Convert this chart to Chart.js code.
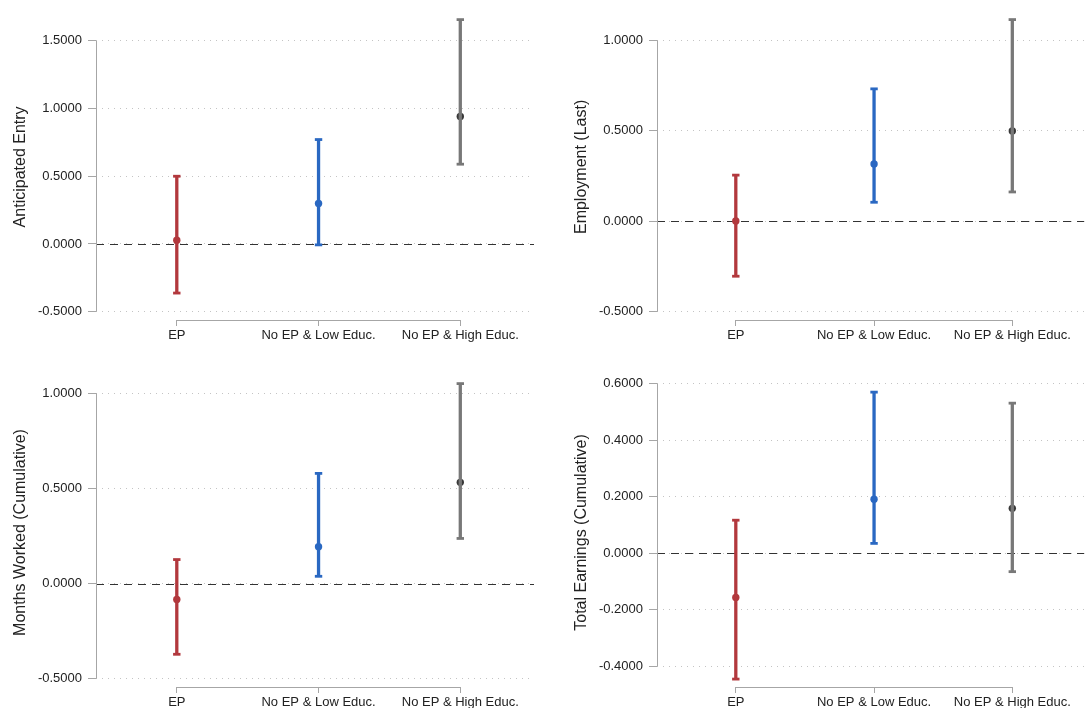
<!DOCTYPE html>
<html>
<head>
<meta charset="utf-8">
<title>Estimated effects by group</title>
<script src="https://cdn.jsdelivr.net/npm/chart.js@4.4.1/dist/chart.umd.min.js"></script>
<style>
  html, body { margin: 0; padding: 0; background: #ffffff; width: 1091px; height: 708px; overflow: hidden; }
  .panel { position: absolute; }
  canvas { display: block; }
</style>
</head>
<body>
<div class="panel" style="left:0px;top:0px;"><canvas id="entry"></canvas></div>
<div class="panel" style="left:545px;top:0px;"><canvas id="employ"></canvas></div>
<div class="panel" style="left:0px;top:354px;"><canvas id="months"></canvas></div>
<div class="panel" style="left:545px;top:354px;"><canvas id="earnings"></canvas></div>
<script>
// Groups on the horizontal axis
const categories = ['EP', 'No EP & Low Educ.', 'No EP & High Educ.'];

// Anticipated entry: point estimates and confidence bounds
const entryEst = [0.027, 0.299, 0.942];
const entryLo  = [-0.363, -0.007, 0.589];
const entryHi  = [0.500, 0.771, 1.657];
const entryTicks = [-0.5, 0.0, 0.5, 1.0, 1.5];

// Employment (last period)
const employEst = [0.001, 0.317, 0.499];
const employLo  = [-0.304, 0.105, 0.162];
const employHi  = [0.255, 0.732, 1.115];
const employTicks = [-0.5, 0.0, 0.5, 1.0];

// Months worked (cumulative)
const monthsEst = [-0.084, 0.193, 0.532];
const monthsLo  = [-0.372, 0.038, 0.237];
const monthsHi  = [0.126, 0.579, 1.051];
const monthsTicks = [-0.5, 0.0, 0.5, 1.0];

// Total earnings (cumulative)
const earningsEst = [-0.156, 0.191, 0.159];
const earningsLo  = [-0.445, 0.035, -0.065];
const earningsHi  = [0.117, 0.570, 0.531];
const earningsTicks = [-0.4, -0.2, 0.0, 0.2, 0.4, 0.6];

// Styling
const barColors = ['#b2383d', '#2a68c2', '#787878'];
const dotColors = ['#b2383d', '#2a68c2', '#383838'];
const FONT = "'Liberation Sans', Arial, Helvetica, sans-serif";
const AXIS_GREY = '#a6a6a6';
const TEXT = '#222222';

// Axis lines that span only the ticked range, plus the dashed zero reference line
const framePlugin = {
  id: 'frame',
  beforeDatasetsDraw(chart) {
    const {ctx, chartArea} = chart;
    const y = chart.scales.y, x = chart.scales.x;
    const yt = y.ticks.map(t => t.value);
    ctx.save();
    // zero line
    const y0 = Math.round(y.getPixelForValue(0)) + 0.5;
    ctx.strokeStyle = '#333333';
    ctx.lineWidth = 1;
    ctx.setLineDash([8, 6]);
    ctx.beginPath();
    ctx.moveTo(chartArea.left, y0);
    ctx.lineTo(chartArea.right, y0);
    ctx.stroke();
    ctx.setLineDash([]);
    // vertical axis between extreme ticks
    ctx.strokeStyle = AXIS_GREY;
    const ax = Math.round(chartArea.left) + 0.5;
    ctx.beginPath();
    ctx.moveTo(ax, y.getPixelForValue(Math.min(...yt)));
    ctx.lineTo(ax, y.getPixelForValue(Math.max(...yt)));
    ctx.stroke();
    // horizontal axis between first and last group
    const by = Math.round(chartArea.bottom) + 0.5;
    ctx.beginPath();
    ctx.moveTo(x.getPixelForValue(0), by);
    ctx.lineTo(x.getPixelForValue(categories.length - 1), by);
    ctx.stroke();
    ctx.restore();
  }
};

function makePanel(id, title, est, lo, hi, ticks, yMin, yMax, pad) {
  const cv = document.getElementById(id);
  cv.width = pad.w; cv.height = pad.h;
  cv.style.width = pad.w + 'px'; cv.style.height = pad.h + 'px';

  const datasets = [];
  categories.forEach((c, i) => {
    datasets.push({
      type: 'scatter',
      label: c + ' interval',
      data: [{x: i, y: lo[i]}, {x: i, y: hi[i]}],
      showLine: true,
      borderColor: barColors[i],
      borderWidth: 3.3,
      pointStyle: 'line',
      pointRadius: 3.7,
      pointBorderWidth: 2.8,
      pointBorderColor: barColors[i],
      pointBackgroundColor: barColors[i],
      clip: false
    });
  });
  datasets.push({
    type: 'scatter',
    label: 'Estimate',
    data: est.map((v, i) => ({x: i, y: v})),
    pointRadius: 3.7,
    pointBorderWidth: 0,
    pointBackgroundColor: dotColors,
    pointBorderColor: dotColors,
    clip: false
  });

  return new Chart(cv, {
    type: 'scatter',
    data: { datasets },
    plugins: [framePlugin],
    options: {
      responsive: false,
      animation: false,
      events: [],
      layout: { padding: { left: pad.left, right: pad.right, top: pad.top, bottom: 0 } },
      plugins: { legend: { display: false }, tooltip: { enabled: false } },
      scales: {
        x: {
          type: 'linear',
          min: -0.57,
          max: 2.52,
          afterBuildTicks: (s) => { s.ticks = categories.map((c, i) => ({ value: i })); },
          afterFit: (s) => { s.height = 34; },
          border: { display: false },
          grid: { drawOnChartArea: false, drawTicks: true, tickLength: 6, tickColor: AXIS_GREY, color: AXIS_GREY },
          ticks: {
            autoSkip: false, maxRotation: 0, minRotation: 0, padding: 2,
            color: TEXT, font: { family: FONT, size: 13 },
            callback: (v) => categories[Math.round(v)]
          }
        },
        y: {
          type: 'linear',
          min: yMin,
          max: yMax,
          afterBuildTicks: (s) => { s.ticks = ticks.map(v => ({ value: v })); },
          afterFit: (s) => { s.width = 94; },
          border: { display: false, dash: [1, 5] },
          grid: {
            drawOnChartArea: true, drawTicks: true, tickLength: 8,
            color: '#c4c4c4', lineWidth: 1, borderDash: [1, 5],
            tickColor: AXIS_GREY, tickBorderDash: []
          },
          ticks: {
            padding: 6, color: TEXT, font: { family: FONT, size: 13 },
            callback: (v) => Number(v).toFixed(4)
          },
          title: {
            display: true, text: title, color: TEXT,
            font: { family: FONT, size: 16 }, padding: { top: 9, bottom: 0 }
          }
        }
      }
    }
  });
}

makePanel('entry', 'Anticipated Entry', entryEst, entryLo, entryHi, entryTicks, -0.562, 1.70,
  { w: 545, h: 354, left: 2, right: 11, top: 10 });
makePanel('employ', 'Employment (Last)', employEst, employLo, employHi, employTicks, -0.546, 1.147,
  { w: 546, h: 354, left: 18, right: 0, top: 10 });
makePanel('months', 'Months Worked (Cumulative)', monthsEst, monthsLo, monthsHi, monthsTicks, -0.544, 1.0805,
  { w: 545, h: 367, left: 2, right: 11, top: 24 });
makePanel('earnings', 'Total Earnings (Cumulative)', earningsEst, earningsLo, earningsHi, earningsTicks, -0.473, 0.620,
  { w: 546, h: 367, left: 18, right: 0, top: 24 });
</script>
</body>
</html>
